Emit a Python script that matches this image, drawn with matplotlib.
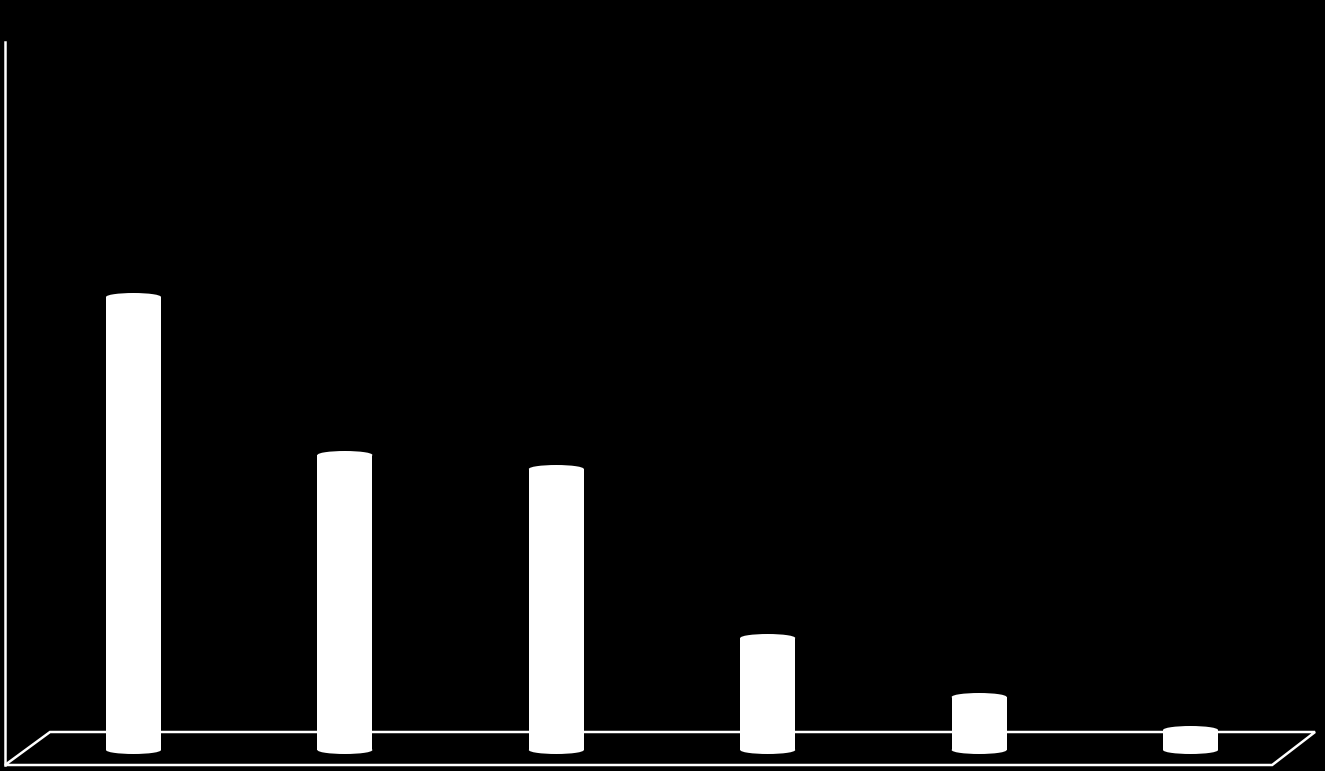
import matplotlib
matplotlib.use("Agg")
import matplotlib.pyplot as plt
from matplotlib.patches import Rectangle, Ellipse, Polygon

# values (arbitrary units, no labels shown)
categories = ["A", "B", "C", "D", "E", "F"]
values = [45.3, 29.5, 28.1, 11.2, 5.3, 2.0]

bar_w = 0.26
cap_h = 0.8

fig = plt.figure(figsize=(13.25, 7.71), dpi=100, facecolor="black")
ax = fig.add_axes([0, 0, 1, 1])
ax.set_facecolor("black")
ax.set_xlim(-0.6315, 5.636)
ax.set_ylim(-2.1, 75)
ax.axis("off")

# floor outline and vertical wall line
floor = Polygon([(-0.608, -1.5), (-0.395, 1.8), (5.589, 1.8), (5.386, -1.5)],
                closed=True, fill=False, edgecolor="white", lw=1.8)
ax.add_patch(floor)
ax.plot([-0.608, -0.608], [-1.5, 70.8], color="white", lw=1.8)

# cylinders
for i, v in enumerate(values):
    ax.add_patch(Rectangle((i - bar_w / 2, 0), bar_w, v, facecolor="white",
                           edgecolor="none", zorder=3))
    ax.add_patch(Ellipse((i, 0), bar_w, cap_h, facecolor="white",
                         edgecolor="none", zorder=3))
    ax.add_patch(Ellipse((i, v), bar_w, cap_h, facecolor="white",
                         edgecolor="none", zorder=3))

fig.savefig("out.png", dpi=100, facecolor="black")
